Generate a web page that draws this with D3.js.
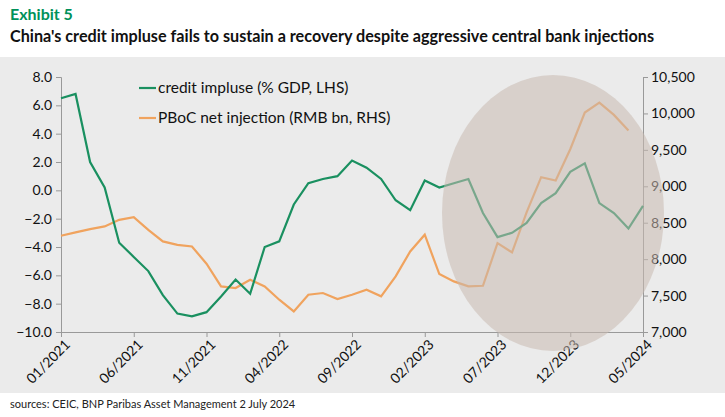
<!DOCTYPE html>
<html><head><meta charset="utf-8">
<script src="https://cdn.jsdelivr.net/npm/d3@7"></script>
<style>body{margin:0;background:#fff;font-family:Lato,"Noto Sans",sans-serif}</style>
</head><body><svg id="c" width="725" height="417"></svg>
<script>
const months = d3.range(0, 41);
const tickLabels = ["01/2021","06/2021","11/2021","04/2022","09/2022","02/2023","07/2023","12/2023","05/2024"];
const creditImpulse = [6.5,6.8,2.0,0.2,-3.7,-4.7,-5.7,-7.4,-8.7,-8.9,-8.6,-7.5,-6.3,-7.3,-4.0,-3.6,-1.0,0.5,0.8,1.0,2.1,1.6,0.8,-0.7,-1.4,0.7,0.2,0.5,0.8,-1.6,-3.3,-3.0,-2.3,-0.9,-0.2,1.3,1.9,-0.9,-1.6,-2.7,-1.1];
const pbocInjection = [8321,8367,8412,8449,8540,8577,8403,8243,8197,8174,7937,7626,7603,7718,7626,7443,7283,7512,7535,7452,7512,7580,7489,7763,8106,8335,7795,7695,7626,7635,8220,8092,8641,9125,9080,9509,10012,10149,9980,9765];
const leftTicks = d3.range(-10, 8.01, 2);
const rightTicks = d3.range(7000, 10501, 500);

const svg = d3.select("#c");
svg.append("rect").attr("x",0).attr("y",57).attr("width",725).attr("height",336).attr("fill","#ebebeb");
svg.append("text").attr("x",10).attr("y",20).attr("fill","#00915a").attr("font-weight","bold").attr("font-size",16).text("Exhibit 5");
svg.append("text").attr("x",10).attr("y",42).attr("fill","#111").attr("font-weight","bold").attr("font-size",16.2).text("China's credit impluse fails to sustain a recovery despite aggressive central bank injections");
svg.append("text").attr("x",10).attr("y",408).attr("fill","#222").attr("font-size",11).text("sources: CEIC, BNP Paribas Asset Management  2 July 2024");

const x = d3.scaleLinear().domain([0,40]).range([61,643]);
const yL = d3.scaleLinear().domain([-10,8]).range([332,77]);
const yR = d3.scaleLinear().domain([7000,10500]).range([332,77]);

const axL = svg.append("g").attr("transform","translate(61,0)").call(d3.axisLeft(yL).tickValues(leftTicks).tickFormat(d3.format(".1f")).tickSize(5));
const axR = svg.append("g").attr("transform","translate(643,0)").call(d3.axisRight(yR).tickValues(rightTicks).tickFormat(d3.format(",")).tickSize(5));
const axB = svg.append("g").attr("transform","translate(0,332)").call(d3.axisBottom(x).tickValues(d3.range(0,41,5)).tickFormat((d,i)=>tickLabels[i]).tickSize(5));
[axL,axR,axB].forEach(a=>{a.selectAll("path,line").attr("stroke","#999");a.selectAll("text").attr("font-size",14).attr("fill","#111").attr("font-family","Lato,'Noto Sans',sans-serif");});
axL.selectAll("text").attr("dx",-1);
axB.selectAll("text").attr("text-anchor","end").attr("transform","rotate(-45)").attr("dx","-0.2em").attr("dy","0.6em");

const line = (yS)=>d3.line().x((d,i)=>x(i)).y(d=>yS(d));
svg.append("path").datum(pbocInjection).attr("d",line(yR)).attr("fill","none").attr("stroke","#f0a35e").attr("stroke-width",2.2);
svg.append("path").datum(creditImpulse).attr("d",line(yL)).attr("fill","none").attr("stroke","#1a9060").attr("stroke-width",2.2);

svg.append("ellipse").attr("cx",553).attr("cy",213).attr("rx",111).attr("ry",138).attr("fill","#c9b9b0").attr("opacity",0.55);

const lg = svg.append("g").attr("font-size",15.5).attr("fill","#111");
[["credit impluse (% GDP, LHS)","#1a9060",88],["PBoC net injection (RMB bn, RHS)","#f0a35e",118]].forEach(([t,c,y])=>{
  lg.append("line").attr("x1",139).attr("x2",156).attr("y1",y).attr("y2",y).attr("stroke",c).attr("stroke-width",2.2);
  lg.append("text").attr("x",158).attr("y",y+5).text(t);
});
</script></body></html>
